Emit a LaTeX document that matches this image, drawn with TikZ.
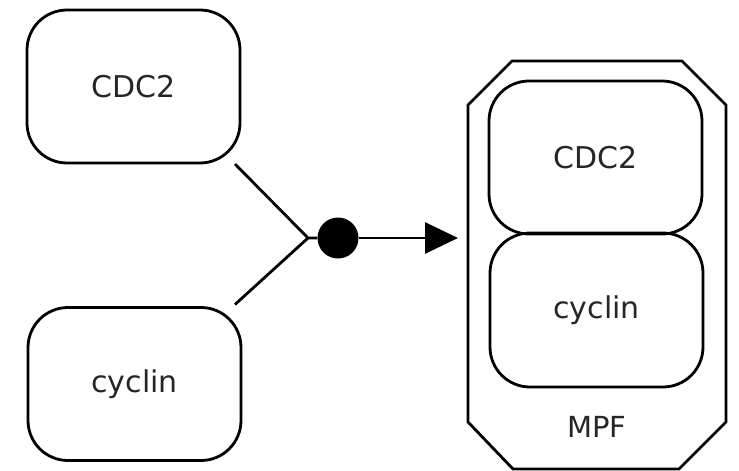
\documentclass[tikz,border=0pt]{standalone}
\usepackage{fontspec}
\setmainfont{DejaVu Sans}
\usetikzlibrary{arrows.meta,calc}

\tikzset{
  macro/.style={draw, line width=2.8pt, rounded corners=40pt,
    minimum width=213pt, minimum height=153pt, inner sep=0pt, outer sep=0pt,
    font=\fontsize{30}{36}\selectfont, text=black!85},
  cplx/.style={rectangle, minimum width=258pt, minimum height=408pt,
    inner sep=0pt, outer sep=0pt},
  cplxline/.style={line width=2.8pt, line join=miter},
  assocdot/.style={circle, fill=black, minimum size=41pt, inner sep=0pt},
  link/.style={line width=2.8pt},
  lbl/.style={font=\fontsize{29}{34}\selectfont, text=black!85, inner sep=0pt}
}

\begin{document}
\begin{tikzpicture}[x=1pt, y=-1pt]
  \useasboundingbox (0,0) rectangle (739,471);

  % free species
  \node[macro] (cdc2) at (133.5,86.5) {CDC2};
  \node[macro] (cyc) at (134.5,384) {cyclin};

  % complex MPF: box with cut corners around its two components
  \node[cplx] (mpf) at (597,265) {};
  \draw[cplxline]
    ($(mpf.north west)+(44,0)$) -- ($(mpf.north east)+(-44,0)$)
    -- ($(mpf.north east)+(0,44)$) -- ($(mpf.south east)+(0,-47)$)
    -- ($(mpf.south east)+(-47,0)$) -- ($(mpf.south west)+(45,0)$)
    -- ($(mpf.south west)+(0,-47)$) -- ($(mpf.north west)+(0,44)$) -- cycle;
  \node[macro] (icdc2) at (595.5,157.5) {CDC2};
  \node[macro, minimum height=154pt] (icyc) at (596.5,310) {cyclin};
  \node[lbl] (mpflbl) at (597,427) {MPF};

  % association process
  \node[assocdot] (assoc) at (338,238) {};
  \coordinate (port) at (308,238);
  \coordinate (c1) at ($(cdc2.south east)+(-5,1)$);
  \coordinate (c2) at ($(cyc.north east)+(-6,-3)$);
  \coordinate (tip) at (mpf.west -| 458,0);

  \draw[link] (c1) -- (port) -- (assoc);
  \draw[link] (c2) -- (port);
  \draw[link, -{Triangle[length=33pt, width=31pt]}] (assoc) -- (assoc -| tip);
\end{tikzpicture}
\end{document}
